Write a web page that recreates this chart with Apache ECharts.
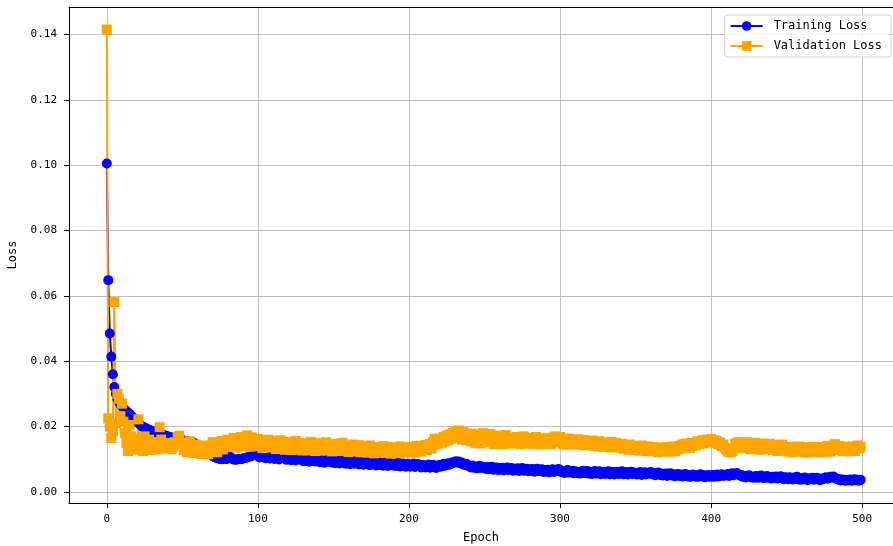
<!DOCTYPE html>
<html>
<head>
<meta charset="utf-8">
<script src="https://cdn.jsdelivr.net/npm/echarts@6/dist/echarts.min.js"></script>
<style>
  html, body { margin: 0; padding: 0; background: #fff; }
  #chart { width: 893px; height: 546px; }
</style>
</head>
<body>
<div id="chart"></div>
<script>
// tick labels
const xTicks = [0, 100, 200, 300, 400, 500];
const yTicks = [0, 0.02, 0.04, 0.06, 0.08, 0.10, 0.12, 0.14];

// loss per epoch (epoch = array index)
const trainLoss = [
  0.1005, 0.0648, 0.0485, 0.0414, 0.0360, 0.0321, 0.0300, 0.0285, 0.0276, 0.0268,
  0.0262, 0.0256, 0.0251, 0.0247, 0.0243, 0.0239, 0.0234, 0.0229, 0.0224, 0.0219,
  0.0214, 0.0210, 0.0206, 0.0202, 0.0199, 0.0196, 0.0194, 0.0192, 0.0190, 0.0188,
  0.0186, 0.0184, 0.0183, 0.0181, 0.0179, 0.0178, 0.0176, 0.0175, 0.0173, 0.0172,
  0.0170, 0.0169, 0.0168, 0.0166, 0.0165, 0.0164, 0.0163, 0.0161, 0.0160, 0.0159,
  0.0158, 0.0157, 0.0156, 0.0155, 0.0154, 0.0153, 0.0152, 0.0151, 0.0149, 0.0146,
  0.0142, 0.0138, 0.0134, 0.0130, 0.0127, 0.0124, 0.0121, 0.0118, 0.0116, 0.0114,
  0.0110, 0.0107, 0.0105, 0.0103, 0.0102, 0.0101, 0.0100, 0.0101, 0.0102, 0.0100,
  0.0103, 0.0110, 0.0106, 0.0101, 0.0099, 0.0098, 0.0099, 0.0100, 0.0101, 0.0100,
  0.0102, 0.0103, 0.0104, 0.0106, 0.0107, 0.0108, 0.0110, 0.0112, 0.0113, 0.0112,
  0.0116, 0.0105, 0.0112, 0.0118, 0.0107, 0.0103, 0.0114, 0.0109, 0.0102, 0.0111,
  0.0115, 0.0101, 0.0108, 0.0112, 0.0099, 0.0106, 0.0113, 0.0118, 0.0104, 0.0098,
  0.0107, 0.0111, 0.0097, 0.0102, 0.0109, 0.0096, 0.0104, 0.0108, 0.0113, 0.0099,
  0.0094, 0.0103, 0.0106, 0.0095, 0.0092, 0.0101, 0.0097, 0.0105, 0.0093, 0.0099,
  0.0102, 0.0091, 0.0095, 0.0100, 0.0089, 0.0097, 0.0103, 0.0092, 0.0096, 0.0090,
  0.0098, 0.0088, 0.0094, 0.0099, 0.0087, 0.0092, 0.0097, 0.0090, 0.0086, 0.0095,
  0.0093, 0.0085, 0.0091, 0.0096, 0.0086, 0.0089, 0.0094, 0.0084, 0.0090, 0.0093,
  0.0083, 0.0089, 0.0094, 0.0085, 0.0082, 0.0091, 0.0087, 0.0093, 0.0081, 0.0088,
  0.0091, 0.0082, 0.0087, 0.0080, 0.0089, 0.0085, 0.0079, 0.0090, 0.0084, 0.0081,
  0.0088, 0.0079, 0.0085, 0.0089, 0.0078, 0.0083, 0.0087, 0.0080, 0.0077, 0.0086,
  0.0084, 0.0077, 0.0082, 0.0087, 0.0076, 0.0080, 0.0085, 0.0078, 0.0075, 0.0083,
  0.0081, 0.0075, 0.0080, 0.0084, 0.0074, 0.0078, 0.0083, 0.0076, 0.0073, 0.0080,
  0.0082, 0.0077, 0.0083, 0.0086, 0.0080, 0.0084, 0.0088, 0.0083, 0.0087, 0.0091,
  0.0089, 0.0094, 0.0090, 0.0093, 0.0087, 0.0090, 0.0085, 0.0082, 0.0086, 0.0080,
  0.0079, 0.0075, 0.0081, 0.0074, 0.0078, 0.0072, 0.0077, 0.0080, 0.0073, 0.0076,
  0.0075, 0.0070, 0.0076, 0.0069, 0.0073, 0.0077, 0.0068, 0.0072, 0.0075, 0.0067,
  0.0073, 0.0068, 0.0074, 0.0066, 0.0071, 0.0075, 0.0067, 0.0070, 0.0073, 0.0065,
  0.0071, 0.0066, 0.0072, 0.0064, 0.0069, 0.0073, 0.0065, 0.0068, 0.0071, 0.0063,
  0.0069, 0.0064, 0.0070, 0.0062, 0.0067, 0.0071, 0.0063, 0.0066, 0.0069, 0.0061,
  0.0067, 0.0062, 0.0068, 0.0060, 0.0065, 0.0069, 0.0061, 0.0064, 0.0068, 0.0070,
  0.0066, 0.0060, 0.0064, 0.0058, 0.0063, 0.0067, 0.0059, 0.0062, 0.0065, 0.0057,
  0.0063, 0.0058, 0.0062, 0.0056, 0.0061, 0.0065, 0.0057, 0.0060, 0.0064, 0.0056,
  0.0061, 0.0055, 0.0060, 0.0064, 0.0056, 0.0059, 0.0063, 0.0054, 0.0058, 0.0062,
  0.0055, 0.0060, 0.0063, 0.0054, 0.0058, 0.0061, 0.0053, 0.0057, 0.0062, 0.0055,
  0.0059, 0.0063, 0.0054, 0.0058, 0.0061, 0.0053, 0.0057, 0.0062, 0.0055, 0.0059,
  0.0058, 0.0053, 0.0057, 0.0061, 0.0052, 0.0056, 0.0060, 0.0053, 0.0057, 0.0059,
  0.0061, 0.0054, 0.0058, 0.0051, 0.0055, 0.0059, 0.0052, 0.0056, 0.0050, 0.0054,
  0.0056, 0.0049, 0.0053, 0.0057, 0.0050, 0.0054, 0.0048, 0.0052, 0.0055, 0.0049,
  0.0053, 0.0047, 0.0051, 0.0055, 0.0048, 0.0052, 0.0046, 0.0050, 0.0053, 0.0047,
  0.0051, 0.0046, 0.0050, 0.0054, 0.0047, 0.0051, 0.0045, 0.0049, 0.0052, 0.0046,
  0.0048, 0.0052, 0.0046, 0.0050, 0.0053, 0.0047, 0.0051, 0.0054, 0.0049, 0.0052,
  0.0050, 0.0055, 0.0049, 0.0053, 0.0057, 0.0051, 0.0054, 0.0058, 0.0053, 0.0050,
  0.0052, 0.0046, 0.0049, 0.0044, 0.0048, 0.0051, 0.0045, 0.0047, 0.0043, 0.0046,
  0.0049, 0.0043, 0.0047, 0.0050, 0.0044, 0.0042, 0.0046, 0.0049, 0.0043, 0.0045,
  0.0041, 0.0046, 0.0043, 0.0047, 0.0041, 0.0044, 0.0048, 0.0042, 0.0039, 0.0045,
  0.0043, 0.0039, 0.0045, 0.0041, 0.0038, 0.0044, 0.0040, 0.0046, 0.0039, 0.0037,
  0.0042, 0.0038, 0.0044, 0.0040, 0.0036, 0.0042, 0.0039, 0.0043, 0.0037, 0.0040,
  0.0043, 0.0038, 0.0036, 0.0041, 0.0039, 0.0042, 0.0045, 0.0040, 0.0043, 0.0046,
  0.0044, 0.0047, 0.0043, 0.0040, 0.0037, 0.0039, 0.0035, 0.0038, 0.0036, 0.0034,
  0.0037, 0.0035, 0.0038, 0.0034, 0.0036, 0.0039, 0.0035, 0.0037, 0.0034, 0.0037
];

const valLoss = [
  0.1415, 0.0225, 0.0200, 0.0165, 0.0185, 0.0581, 0.0210, 0.0300, 0.0285, 0.0232,
  0.0270, 0.0215, 0.0180, 0.0150, 0.0125, 0.0205, 0.0170, 0.0140, 0.0160, 0.0130,
  0.0145, 0.0222, 0.0130, 0.0155, 0.0125, 0.0170, 0.0148, 0.0132, 0.0160, 0.0128,
  0.0140, 0.0135, 0.0152, 0.0130, 0.0145, 0.0198, 0.0160, 0.0138, 0.0133, 0.0150,
  0.0142, 0.0136, 0.0148, 0.0131, 0.0139, 0.0152, 0.0145, 0.0168, 0.0172, 0.0150,
  0.0150, 0.0128, 0.0142, 0.0121, 0.0138, 0.0155, 0.0126, 0.0133, 0.0119, 0.0145,
  0.0122, 0.0137, 0.0116, 0.0131, 0.0142, 0.0120, 0.0128, 0.0115, 0.0135, 0.0124,
  0.0152, 0.0127, 0.0143, 0.0121, 0.0148, 0.0133, 0.0156, 0.0130, 0.0145, 0.0138,
  0.0160, 0.0138, 0.0155, 0.0143, 0.0165, 0.0148, 0.0135, 0.0162, 0.0150, 0.0168,
  0.0146, 0.0163, 0.0140, 0.0173, 0.0152, 0.0138, 0.0167, 0.0149, 0.0161, 0.0143,
  0.0162, 0.0140, 0.0155, 0.0134, 0.0158, 0.0145, 0.0136, 0.0160, 0.0142, 0.0151,
  0.0137, 0.0156, 0.0131, 0.0149, 0.0140, 0.0158, 0.0133, 0.0146, 0.0129, 0.0152,
  0.0136, 0.0153, 0.0128, 0.0145, 0.0137, 0.0156, 0.0130, 0.0148, 0.0139, 0.0127,
  0.0150, 0.0132, 0.0146, 0.0127, 0.0143, 0.0153, 0.0131, 0.0140, 0.0125, 0.0147,
  0.0134, 0.0149, 0.0126, 0.0141, 0.0130, 0.0152, 0.0128, 0.0139, 0.0145, 0.0124,
  0.0143, 0.0129, 0.0147, 0.0125, 0.0138, 0.0131, 0.0150, 0.0127, 0.0136, 0.0141,
  0.0122, 0.0140, 0.0130, 0.0145, 0.0124, 0.0136, 0.0128, 0.0143, 0.0121, 0.0134,
  0.0139, 0.0125, 0.0133, 0.0120, 0.0142, 0.0127, 0.0131, 0.0118, 0.0137, 0.0129,
  0.0122, 0.0136, 0.0124, 0.0140, 0.0119, 0.0131, 0.0126, 0.0138, 0.0117, 0.0129,
  0.0135, 0.0121, 0.0130, 0.0118, 0.0139, 0.0125, 0.0133, 0.0120, 0.0136, 0.0127,
  0.0122, 0.0138, 0.0126, 0.0133, 0.0120, 0.0141, 0.0129, 0.0135, 0.0123, 0.0140,
  0.0131, 0.0144, 0.0128, 0.0139, 0.0147, 0.0133, 0.0152, 0.0163, 0.0145, 0.0156,
  0.0148, 0.0162, 0.0151, 0.0168, 0.0155, 0.0172, 0.0158, 0.0176, 0.0163, 0.0181,
  0.0167, 0.0185, 0.0172, 0.0188, 0.0174, 0.0160, 0.0183, 0.0169, 0.0158, 0.0178,
  0.0171, 0.0155, 0.0178, 0.0162, 0.0150, 0.0174, 0.0159, 0.0148, 0.0170, 0.0180,
  0.0158, 0.0175, 0.0152, 0.0168, 0.0177, 0.0155, 0.0146, 0.0172, 0.0160, 0.0149,
  0.0169, 0.0154, 0.0146, 0.0165, 0.0174, 0.0151, 0.0163, 0.0148, 0.0167, 0.0153,
  0.0164, 0.0150, 0.0168, 0.0155, 0.0146, 0.0161, 0.0170, 0.0149, 0.0163, 0.0152,
  0.0160, 0.0147, 0.0165, 0.0153, 0.0168, 0.0150, 0.0158, 0.0145, 0.0163, 0.0155,
  0.0149, 0.0164, 0.0152, 0.0160, 0.0146, 0.0166, 0.0155, 0.0170, 0.0158, 0.0151,
  0.0168, 0.0153, 0.0147, 0.0162, 0.0155, 0.0145, 0.0163, 0.0150, 0.0158, 0.0148,
  0.0157, 0.0145, 0.0161, 0.0149, 0.0156, 0.0143, 0.0159, 0.0151, 0.0146, 0.0155,
  0.0144, 0.0157, 0.0141, 0.0152, 0.0146, 0.0139, 0.0155, 0.0143, 0.0150, 0.0138,
  0.0151, 0.0139, 0.0148, 0.0136, 0.0153, 0.0142, 0.0137, 0.0150, 0.0140, 0.0146,
  0.0135, 0.0147, 0.0132, 0.0143, 0.0138, 0.0129, 0.0145, 0.0134, 0.0141, 0.0128,
  0.0140, 0.0130, 0.0137, 0.0126, 0.0142, 0.0131, 0.0136, 0.0125, 0.0139, 0.0129,
  0.0134, 0.0124, 0.0137, 0.0127, 0.0133, 0.0122, 0.0136, 0.0128, 0.0125, 0.0135,
  0.0126, 0.0137, 0.0123, 0.0132, 0.0128, 0.0139, 0.0124, 0.0134, 0.0130, 0.0141,
  0.0133, 0.0145, 0.0136, 0.0148, 0.0138, 0.0144, 0.0135, 0.0150, 0.0141, 0.0147,
  0.0143, 0.0155, 0.0146, 0.0152, 0.0158, 0.0148, 0.0154, 0.0160, 0.0151, 0.0157,
  0.0162, 0.0153, 0.0158, 0.0149, 0.0155, 0.0146, 0.0151, 0.0140, 0.0145, 0.0135,
  0.0130, 0.0123, 0.0127, 0.0121, 0.0125, 0.0132, 0.0148, 0.0139, 0.0152, 0.0142,
  0.0136, 0.0149, 0.0134, 0.0145, 0.0152, 0.0138, 0.0131, 0.0147, 0.0135, 0.0150,
  0.0133, 0.0146, 0.0129, 0.0142, 0.0148, 0.0136, 0.0130, 0.0144, 0.0132, 0.0147,
  0.0139, 0.0128, 0.0143, 0.0131, 0.0125, 0.0140, 0.0134, 0.0145, 0.0127, 0.0137,
  0.0130, 0.0123, 0.0138, 0.0127, 0.0121, 0.0136, 0.0129, 0.0124, 0.0139, 0.0128,
  0.0135, 0.0122, 0.0137, 0.0126, 0.0120, 0.0134, 0.0128, 0.0123, 0.0138, 0.0125,
  0.0133, 0.0121, 0.0137, 0.0127, 0.0122, 0.0135, 0.0126, 0.0140, 0.0129, 0.0123,
  0.0136, 0.0142, 0.0146, 0.0137, 0.0128, 0.0140, 0.0132, 0.0125, 0.0138, 0.0130,
  0.0124, 0.0136, 0.0127, 0.0139, 0.0131, 0.0125, 0.0137, 0.0142, 0.0133, 0.0138
];

const chart = echarts.init(document.getElementById('chart'));

const monoFont = "'DejaVu Sans Mono', 'Liberation Mono', monospace";
const gridLine = { show: true, lineStyle: { color: '#b0b0b0', width: 0.8 } };
const spine = { show: true, onZero: false, lineStyle: { color: '#000', width: 1 } };

const option = {
  animation: false,
  backgroundColor: '#fff',
  grid: {
    left: 69,
    right: 0,
    top: 7,
    bottom: 43,
    containLabel: false,
    outerBoundsMode: 'none'
  },
  legend: {
    orient: 'vertical',
    right: 2,
    top: 15,
    itemWidth: 32,
    itemHeight: 12,
    itemGap: 8,
    padding: [5, 9, 5, 5],
    backgroundColor: 'rgba(255,255,255,0.8)',
    borderColor: '#d0d0d0',
    borderWidth: 1,
    borderRadius: 3,
    textStyle: {
      fontFamily: monoFont,
      fontSize: 12,
      color: '#000',
      padding: [0, 0, 0, 6]
    },
    data: ['Training Loss', 'Validation Loss']
  },
  xAxis: [{
    type: 'value',
    min: -25,
    max: 520.4,
    name: 'Epoch',
    nameLocation: 'middle',
    nameGap: 29,
    nameTextStyle: { fontFamily: monoFont, fontSize: 12, color: '#000' },
    axisLine: spine,
    axisTick: { show: true, length: 5, lineStyle: { color: '#000' }, customValues: xTicks },
    axisLabel: { color: '#000', fontFamily: monoFont, fontSize: 11, margin: 11, customValues: xTicks },
    splitLine: gridLine
  }, {
    type: 'value',
    position: 'top',
    min: -25,
    max: 520.4,
    axisLine: spine,
    axisTick: { show: false },
    axisLabel: { show: false },
    splitLine: { show: false }
  }],
  yAxis: {
    type: 'value',
    min: -0.0034,
    max: 0.1484,
    name: 'Loss',
    nameLocation: 'middle',
    nameRotate: 90,
    nameGap: 50,
    nameTextStyle: { fontFamily: monoFont, fontSize: 12, color: '#000' },
    axisLine: spine,
    axisTick: { show: true, length: 5, lineStyle: { color: '#000' }, customValues: yTicks },
    axisLabel: {
      color: '#000', fontFamily: monoFont, fontSize: 11, margin: 12,
      customValues: yTicks,
      formatter: v => v.toFixed(2)
    },
    splitLine: gridLine
  },
  series: [
    {
      name: 'Training Loss',
      type: 'line',
      data: trainLoss.map((v, i) => [i, v]),
      symbol: 'circle',
      symbolSize: 10,
      showSymbol: true,
      lineStyle: { color: '#0000ff', width: 2 },
      itemStyle: { color: '#0000ff' },
      emphasis: { disabled: true }
    },
    {
      name: 'Validation Loss',
      type: 'line',
      data: valLoss.map((v, i) => [i, v]),
      symbol: 'rect',
      symbolSize: 10,
      showSymbol: true,
      lineStyle: { color: '#ffa500', width: 2 },
      itemStyle: { color: '#ffa500' },
      emphasis: { disabled: true }
    }
  ]
};

chart.setOption(option);
</script>
</body>
</html>
